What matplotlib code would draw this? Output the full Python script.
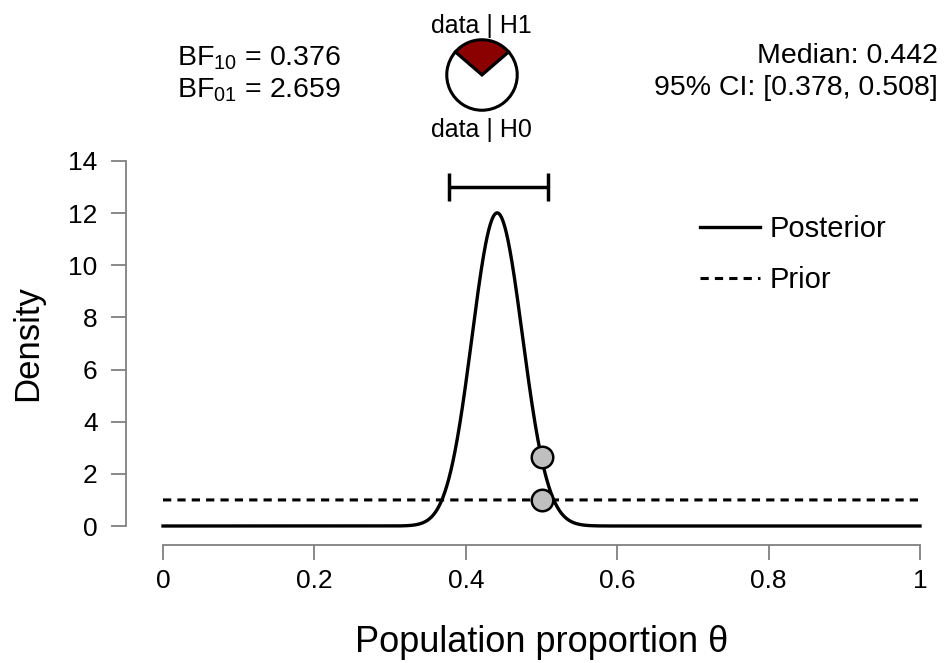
import math

import matplotlib
matplotlib.use("Agg")
import matplotlib.pyplot as plt
import numpy as np

plt.rcParams['font.family'] = ['Liberation Sans', 'DejaVu Sans']
plt.rcParams['mathtext.fontset'] = 'custom'
plt.rcParams['mathtext.rm'] = 'Liberation Sans'
plt.rcParams['mathtext.it'] = 'Liberation Sans'

# data
prior_a, prior_b = 1, 1
successes, trials = 98, 222
null_value = 0.5
point_density = [2.659, 1.0]   # posterior / prior density at null
bf10, bf01 = 0.376, 2.659
median, ci_low, ci_high = 0.442, 0.378, 0.508
ci_height = 13.0
x_ticks = [0, 0.2, 0.4, 0.6, 0.8, 1]
x_tick_labels = ['0', '0.2', '0.4', '0.6', '0.8', '1']
y_ticks = [0, 2, 4, 6, 8, 10, 12, 14]


def beta_pdf(x, a, b):
    lognorm = math.lgamma(a + b) - math.lgamma(a) - math.lgamma(b)
    with np.errstate(divide='ignore'):
        return np.exp(lognorm + (a - 1) * np.log(x) + (b - 1) * np.log(1 - x))


theta = np.linspace(1e-6, 1 - 1e-6, 1500)
post = beta_pdf(theta, prior_a + successes, prior_b + trials - successes)
prior = beta_pdf(theta, prior_a, prior_b)

W, H = 945, 663
fig = plt.figure(figsize=(W / 100, H / 100), dpi=100)
ax = fig.add_axes([163 / W, 137 / H, 757 / W, 365 / H])

ax.plot(theta, post, color='black', lw=2.4, label='Posterior', clip_on=False)
ax.plot(theta, prior, color='black', lw=2.2, ls=(0, (2.7, 2.0)), label='Prior', clip_on=False)
ax.scatter([null_value] * 2, point_density, s=240, facecolor='#bfbfbf',
           edgecolor='black', linewidth=1.8, zorder=5, clip_on=False)

ax.errorbar([median], [ci_height], xerr=[[median - ci_low], [ci_high - median]],
            fmt='none', ecolor='black', elinewidth=2.5, capsize=10, capthick=2.5,
            clip_on=False)

ax.set_xlim(0, 1)
ax.set_ylim(0, 14)
ax.set_xticks(x_ticks)
ax.set_xticklabels(x_tick_labels)
ax.set_yticks(y_ticks)

for s in ['top', 'right']:
    ax.spines[s].set_visible(False)
ax.spines['left'].set_position(('outward', 27))
ax.spines['bottom'].set_position(('outward', 14))
ax.spines['left'].set_bounds(0, 14)
ax.spines['bottom'].set_bounds(0, 1)
for s in ['left', 'bottom']:
    ax.spines[s].set_color('#808080')
    ax.spines[s].set_linewidth(1.3)
ax.tick_params(axis='both', colors='#808080', labelcolor='black', length=11,
               width=1.3, labelsize=19)
ax.tick_params(axis='y', pad=9)
ax.tick_params(axis='x', pad=6)

ax.set_xlabel('Population proportion θ', fontsize=26)
ax.set_ylabel('Density', fontsize=25)
ax.xaxis.set_label_coords(0.5, -0.272)
ax.yaxis.set_label_coords(-0.157, 0.5)

ax.legend(loc='upper left', bbox_to_anchor=(700 / W, 1 - 215 / H),
          bbox_transform=fig.transFigure, frameon=False, fontsize=21,
          borderpad=0, borderaxespad=0, handlelength=2.05, handletextpad=0.35,
          labelspacing=0.8)

# top annotations
fig.text(177 / W, 1 - 65 / H, r'BF$_{10}$ = ' + f'{bf10:.3f}', fontsize=20.5, va='baseline')
fig.text(177 / W, 1 - 98 / H, r'BF$_{01}$ = ' + f'{bf01:.3f}', fontsize=20.5, va='baseline')
fig.text(938 / W, 1 - 63 / H, f'Median: {median:.3f}', fontsize=20.5, va='baseline', ha='right')
fig.text(938 / W, 1 - 95 / H, f'95% CI: [{ci_low:.3f}, {ci_high:.3f}]', fontsize=20.5,
         va='baseline', ha='right')

# pie of P(data|H1) vs P(data|H0)
r = 37
pax = fig.add_axes([(482 - r) / W, 1 - (75 + r) / H, 2 * r / W, 2 * r / H])
p1 = bf10 / (1 + bf10)
pax.pie([p1, 1 - p1], colors=['#8b0000', 'white'], startangle=90 - p1 * 180,
        wedgeprops=dict(edgecolor='black', linewidth=2.2, clip_on=False), radius=1)
pax.set_xlim(-1.05, 1.05)
pax.set_ylim(-1.05, 1.05)
pax.set_aspect('equal')
fig.text(481 / W, 1 - 33 / H, 'data | H1', fontsize=18, ha='center', va='baseline')
fig.text(481 / W, 1 - 137 / H, 'data | H0', fontsize=18, ha='center', va='baseline')

fig.savefig('out.png', dpi=100)
